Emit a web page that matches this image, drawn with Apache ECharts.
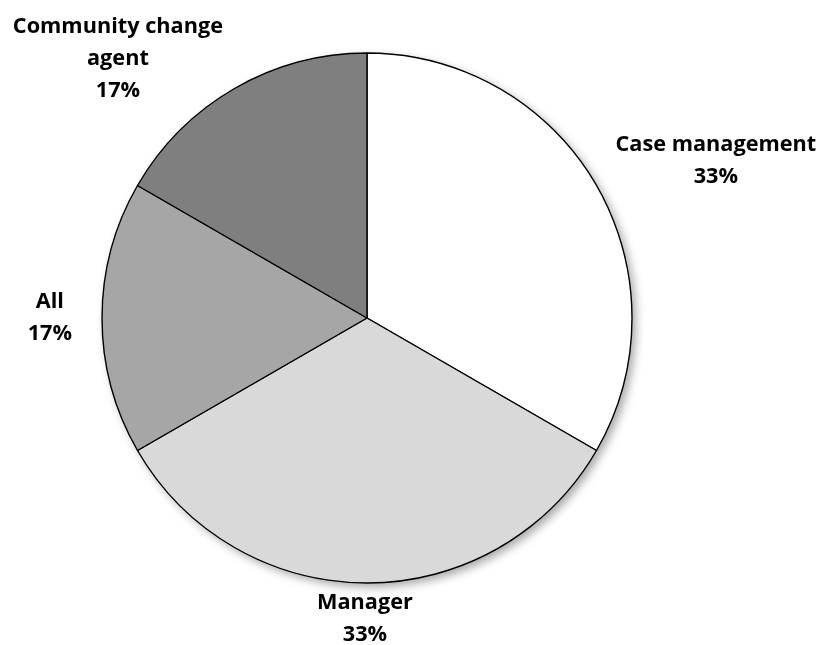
<!DOCTYPE html>
<html><head><meta charset="utf-8">
<script src="https://cdn.jsdelivr.net/npm/echarts@6/dist/echarts.min.js"></script>
<style>html,body{margin:0;padding:0;background:#fff}#c{width:826px;height:645px}</style>
</head><body><div id="c"></div>
<script>
const categories = ['Case management', 'Manager', 'All', 'Community change\nagent'];
const values = [2, 2, 1, 1];
const colors = ['#ffffff', '#d9d9d9', '#a6a6a6', '#7f7f7f'];
// fine label nudges (dx, dy) relative to ECharts' outside label placement
const labelNudge = [[-9, -17], [-65, 21], [0, 0], [11, -17]];

const pieData = categories.map((n, i) => ({name: n, value: values[i], itemStyle: {color: colors[i]}}));

const chart = echarts.init(document.getElementById('c'), null, {renderer: 'canvas'});
chart.setOption({
  animation: false,
  series: [{
    type: 'pie', silent: true, z: 1,
    center: [367, 318], radius: 265, startAngle: 90, clockwise: true,
    data: pieData,
    itemStyle: {borderWidth: 0, shadowBlur: 10, shadowColor: 'rgba(0,0,0,0.35)', shadowOffsetX: 4, shadowOffsetY: 4},
    label: {show: false}, labelLine: {show: false}
  }, {
    type: 'pie', z: 2,
    center: [367, 318],
    radius: 265,
    startAngle: 90,
    clockwise: true,
    data: pieData,
    itemStyle: {borderColor: '#000', borderWidth: 1.4},
    label: {
      show: true, position: 'outside', overflow: 'none',
      formatter: p => p.name + '\n' + Math.round(p.percent) + '%',
      fontFamily: 'Open Sans', fontWeight: 'bold', fontSize: 21.7, lineHeight: 32, color: '#000'
    },
    labelLine: {show: false, length: 15, length2: 10},
    labelLayout: function (params) {
      const r = params.labelRect;
      const n = labelNudge[params.dataIndex];
      return {x: r.x + r.width / 2 + n[0], y: r.y + r.height / 2 + n[1], align: 'center', verticalAlign: 'middle'};
    }
  }]
});
</script></body></html>
